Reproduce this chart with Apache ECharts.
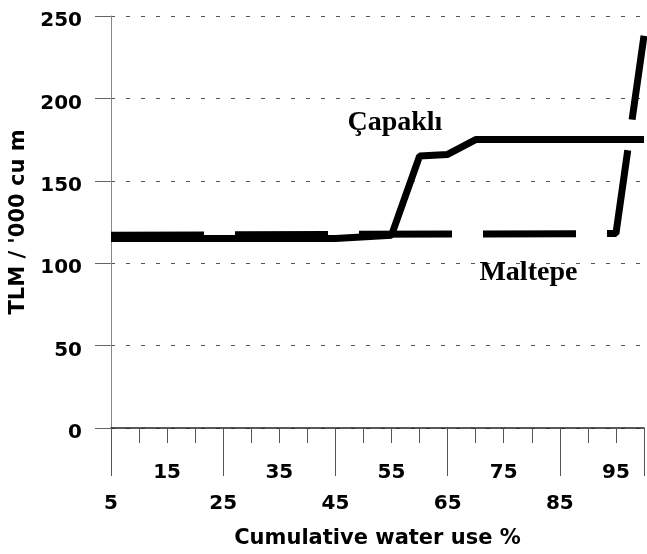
<!DOCTYPE html>
<html>
<head>
<meta charset="utf-8">
<script src="https://cdn.jsdelivr.net/npm/echarts@6/dist/echarts.min.js"></script>
<style>
  html, body { margin: 0; padding: 0; background: #fff; }
  #chart { width: 647px; height: 554px; }
</style>
</head>
<body>
<div id="chart"></div>
<script>
// values
const xTicks = [5, 15, 25, 35, 45, 55, 65, 75, 85, 95]
const yTicks = [0, 50, 100, 150, 200, 250]
const capakli = [[5, 115], [45, 115], [55, 117], [60, 165], [65, 166], [70, 175], [100, 175]]
const maltepe = [[5, 117], [95, 118], [100, 238]]
const seriesNames = ['Çapaklı', 'Maltepe']
const labelAt = [[55.6, 185], [79.4, 94]]

const numFont = { fontFamily: 'DejaVu Sans', fontWeight: 'bold', fontSize: 20, color: '#000' }
const serifFont = { fontFamily: 'Liberation Serif', fontWeight: 'bold', fontSize: 28, color: '#000' }
const chart = echarts.init(document.getElementById('chart'))

const upperLabels = xTicks.filter(v => (v - 15) % 20 === 0)
const lowerLabels = xTicks.filter(v => (v - 5) % 20 === 0)

chart.setOption({
  animation: false,
  grid: { left: 111, right: -6.5, top: 16, bottom: 126 },
  xAxis: [
    {
      type: 'value', min: 5, max: 100, interval: 5, position: 'bottom',
      name: 'Cumulative water use %', nameLocation: 'middle', nameGap: 100,
      nameTextStyle: { fontFamily: 'DejaVu Sans', fontWeight: 'bold', fontSize: 21, color: '#000' },
      axisLine: { lineStyle: { color: '#222', width: 1.5 } },
      axisTick: { length: 15, lineStyle: { color: '#555', width: 1 } },
      axisLabel: { ...numFont, margin: 35, formatter: v => upperLabels.includes(v) ? String(v) : '' },
      splitLine: { show: false }
    },
    {
      type: 'value', min: 5, max: 100, interval: 20, position: 'bottom', offset: 0,
      axisLine: { show: false },
      axisTick: { length: 48, lineStyle: { color: '#555', width: 1 } },
      axisLabel: { ...numFont, margin: 66, formatter: v => lowerLabels.includes(v) ? String(v) : '' },
      splitLine: { show: false }
    }
  ],
  yAxis: {
    type: 'value', min: yTicks[0], max: yTicks[yTicks.length - 1], interval: 50,
    name: "TLM / '000 cu m", nameLocation: 'middle', nameGap: 74,
    nameTextStyle: { fontFamily: 'DejaVu Sans', fontWeight: 'bold', fontSize: 21, color: '#000' },
    axisLine: { show: true, lineStyle: { color: '#888', width: 1 } },
    axisTick: { show: true, length: 16, lineStyle: { color: '#666' } },
    axisLabel: { ...numFont, margin: 29, verticalAlign: 'top', lineHeight: 10 },
    splitLine: { show: true, lineStyle: { color: '#555', type: [4, 11], width: 1 } }
  },
  series: [
    {
      name: seriesNames[0], type: 'line', data: capakli, symbol: 'none',
      lineStyle: { color: '#000', width: 7 }, z: 3,
      markPoint: {
        symbol: 'circle', symbolSize: 0,
        data: [{ coord: labelAt[0], value: seriesNames[0] }],
        label: { show: true, position: 'inside', formatter: seriesNames[0], ...serifFont }
      }
    },
    {
      name: seriesNames[1], type: 'line', data: maltepe, symbol: 'none',
      lineStyle: { color: '#000', width: 7, type: [93, 31] }, z: 4,
      markPoint: {
        symbol: 'circle', symbolSize: 0,
        data: [{ coord: labelAt[1], value: seriesNames[1] }],
        label: { show: true, position: 'inside', formatter: seriesNames[1], ...serifFont }
      }
    }
  ]
})
</script>
</body>
</html>
